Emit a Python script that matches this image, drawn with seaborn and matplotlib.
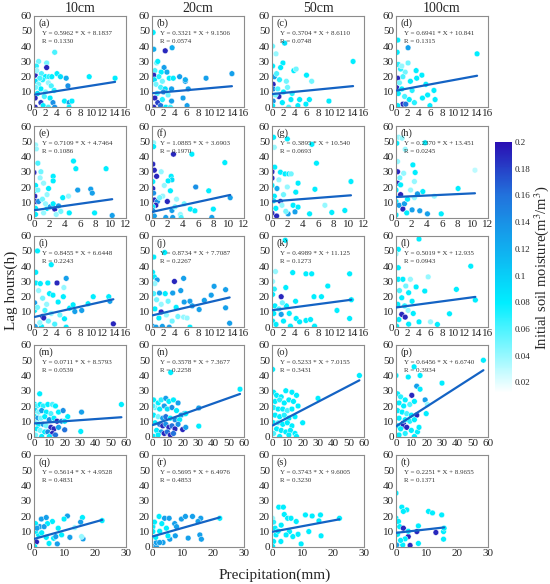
import numpy as np
import pandas as pd
import matplotlib
matplotlib.use("Agg")
import matplotlib.pyplot as plt
import seaborn as sns
from matplotlib.colors import LinearSegmentedColormap, Normalize
from matplotlib.cm import ScalarMappable

sns.set_style("white")
plt.rcParams["font.family"] = ["Liberation Serif", "DejaVu Serif"]
plt.rcParams["mathtext.fontset"] = "stix"

# panel labels, depths and fitted lines
depths = ["10cm", "20cm", "50cm", "100cm"]
panel_tags = ["(a)", "(b)", "(c)", "(d)", "(e)", "(f)", "(g)", "(h)", "(i)", "(j)",
              "(k)", "(l)", "(m)", "(n)", "(o)", "(p)", "(q)", "(r)", "(s)", "(t)"]
slopes = ["0.5962", "0.3321", "0.3704", "0.6941", "0.7109", "1.0885", "0.3895", "0.2370",
          "0.8455", "0.8734", "0.4989", "0.5019", "0.0711", "0.3578", "0.5233", "0.6456",
          "0.5614", "0.5695", "0.3743", "0.2251"]
intercepts = ["8.1837", "9.1506", "8.6110", "10.841", "4.7464", "3.6903", "10.540", "13.451",
              "6.6448", "7.7087", "11.125", "12.935", "8.5793", "7.3677", "7.0155", "6.6740",
              "4.9528", "6.4976", "9.6005", "8.9655"]
r_values = ["0.1330", "0.0574", "0.0748", "0.1315", "0.1086", "0.1970", "0.0693", "0.0245",
            "0.2243", "0.2267", "0.1273", "0.0943", "0.0539", "0.2258", "0.3431", "0.3934",
            "0.4831", "0.4853", "0.3230", "0.1371"]
row_xmax = [16, 12, 16, 60, 30]
row_xstep = [2, 2, 2, 10, 10]
cbar_ticks = [0.02, 0.04, 0.06, 0.08, 0.1, 0.12, 0.14, 0.16, 0.18, 0.2]

# points: (precipitation mm, lag hours, initial soil moisture)
pts_a = [(3.6, 36, .06), (0.8, 30, .05), (2.2, 29, .05), (0.4, 27, .07), (0.2, 21, .19), (2.2, 26, .19),
         (0.5, 24, .04), (1.3, 22, .06), (2.0, 20, .08), (2.6, 20, .07), (3.1, 20, .08), (4.0, 22, .08),
         (1.5, 18, .07), (0.3, 17, .09), (0.8, 15, .05), (2.5, 16, .04), (3.0, 14, .06), (1.2, 12, .08),
         (2.0, 10, .05), (3.5, 11, .07), (0.6, 9, .09), (1.8, 7, .06), (2.8, 6, .08), (0.2, 6, .19),
         (1.2, 3, .18), (3.3, 3, .14), (0.2, 0, .19), (1.6, 1, .08), (2.5, 0, .06), (3.6, 0, .14),
         (4.6, 20, .09), (5.6, 19, .12), (5.9, 14, .14), (5.3, 4, .08), (6.1, 3, .13), (6.6, 4, .08),
         (6.1, 0, .08), (9.6, 20, .08), (14.1, 19, .08), (0.3, 13, .05), (1.0, 19, .06)]
pts_b = [(0.2, 49, .08), (0.3, 38, .12), (2.3, 37, .19), (3.5, 39, .12), (0.8, 29, .05), (1.0, 30, .08),
         (2.1, 26, .13), (0.5, 24, .06), (1.6, 23, .08), (2.6, 23, .12), (0.3, 21, .19), (1.2, 20, .07),
         (0.4, 18, .09), (1.8, 17, .05), (3.0, 19, .08), (3.7, 19, .08), (4.8, 20, .13), (5.8, 17, .13),
         (5.8, 18, .12), (9.4, 19, .13), (13.9, 22, .13), (0.7, 15, .05), (1.5, 13, .06), (2.3, 12, .09),
         (3.4, 12, .13), (6.3, 12, .13), (2.0, 10, .14), (0.9, 9, .06), (2.8, 8, .05), (0.5, 6, .19),
         (1.0, 3, .18), (0.3, 0, .19), (1.5, 1, .16), (2.4, 0, .08), (3.4, 4, .13), (3.2, 0, .06),
         (5.4, 6, .13), (6.1, 1, .13), (1.8, 5, .07)]
pts_c = [(0.1, 40, .05), (0.7, 35, .04), (2.2, 42, .09), (0.1, 27, .08), (0.4, 20, .13), (0.2, 15, .19),
         (0.2, 12, .15), (1.2, 7, .19), (0.2, 4, .14), (0.1, 1, .08), (1.9, 29, .08), (1.5, 26, .08),
         (3.8, 24, .08), (4.2, 25, .05), (6.0, 21, .08), (6.9, 17, .05), (14.1, 30, .08), (9.9, 4, .08),
         (4.8, 5, .08), (6.5, 5, .08), (5.9, 2, .08), (3.3, 5, .08), (0.8, 22, .06), (1.3, 18, .07),
         (2.5, 17, .05), (1.0, 12, .06), (2.0, 10, .08), (2.7, 13, .05), (3.5, 9, .07), (0.6, 8, .05),
         (1.8, 3, .08), (2.9, 0, .06), (4.5, 1, .08)]
pts_d = [(0.3, 44, .08), (0.2, 36, .08), (0.4, 28, .07), (2.1, 39, .13), (0.3, 19, .19), (0.1, 13, .19),
         (1.2, 2, .19), (1.7, 2, .16), (14.1, 35, .08), (3.5, 24, .08), (3.6, 19, .08), (4.5, 21, .08),
         (5.2, 15, .08), (5.5, 8, .08), (4.6, 6, .08), (6.6, 11, .08), (6.8, 5, .08), (5.9, 1, .08),
         (2.1, 29, .05), (1.6, 23, .05), (0.8, 25, .07), (1.2, 20, .06), (2.5, 17, .08), (0.6, 16, .05),
         (1.0, 12, .08), (2.8, 11, .07), (0.4, 9, .08), (1.5, 7, .06), (2.3, 5, .08), (3.2, 3, .07),
         (0.3, 1, .08), (1.0, 27, .04)]
pts_e = [(0.2, 47.6, .04), (0.3, 45, .04), (0.5, 35.6, .06), (0.0, 29.5, .19), (0.2, 21, .08),
         (0.1, 17.7, .08), (0.1, 14, .19), (0.3, 10.5, .19), (0.6, 10.5, .14), (0.2, 6, .08), (0.2, 2, .08),
         (1.25, 22.5, .04), (1.9, 19, .08), (2.5, 27, .08), (2.5, 24, .08), (1.7, 6, .08), (2.1, 7, .13),
         (2.5, 9, .08), (2.7, 5.5, .19), (3.2, 7.6, .13), (3.75, 13, .08), (5.15, 37, .08), (5.46, 32, .08),
         (5.7, 18, .13), (4.6, 3, .08), (7.4, 18.6, .13), (7.6, 16, .13), (7.9, 3, .08), (9.4, 32, .08),
         (10.2, 1.3, .13), (1.25, 3, .04), (1.7, 15, .04), (0.8, 26, .04), (2.9, 2, .04), (1.1, 12, .05),
         (0.9, 30, .05), (1.5, 9, .04), (3.5, 4, .05), (0.5, 18, .05), (4.5, 14, .04)]
pts_f = [(0.2, 49, .04), (0.2, 46.5, .08), (0.1, 35, .19), (0.3, 31, .19), (0.6, 27, .19), (0.1, 23.5, .08),
         (0.1, 19, .19), (0.2, 16, .14), (0.3, 11.5, .19), (0.7, 10.5, .14), (0.5, 8, .19), (0.1, 7, .08),
         (0.1, 4.6, .13), (0.3, 1, .13), (2.8, 41.5, .19), (5.2, 41.5, .08), (2.5, 27, .08), (2.6, 24.7, .09),
         (2.1, 24, .08), (1.6, 21, .04), (2.4, 17.5, .08), (2.0, 10.5, .19), (1.4, 14, .04), (2.6, 4.6, .13),
         (1.8, 0, .13), (2.7, 0, .13), (3.7, 2, .04), (3.8, 0, .06), (5.0, 5.5, .08), (5.6, 4.4, .08),
         (5.7, 20, .14), (7.4, 17.5, .08), (8.0, 5.5, .08), (7.8, 0, .13), (9.5, 36, .08), (10.2, 13, .13),
         (1.0, 13, .05), (3.2, 12, .04), (4.2, 9, .05), (1.2, 30, .04), (3.0, 7, .05)]
pts_g = [(0.2, 52.6, .08), (2.0, 51.5, .08), (5.2, 48, .08), (0.3, 46, .04), (5.8, 35.6, .08),
         (0.35, 33, .08), (0.0, 30, .19), (0.0, 25.8, .19), (0.0, 21, .08), (1.1, 29.7, .08), (1.7, 28.6, .08),
         (2.2, 28.6, .08), (2.5, 28.6, .05), (3.4, 22.5, .08), (0.9, 24.7, .04), (0.65, 19, .12),
         (5.6, 18.5, .08), (10.3, 23.6, .08), (3.1, 16.6, .08), (1.1, 10.5, .19), (1.3, 8, .04),
         (2.75, 8, .08), (3.4, 6.8, .08), (0.0, 2.8, .19), (0.6, 1, .19), (2.1, 2.4, .13), (3.0, 3.7, .13),
         (4.9, 2.4, .08), (7.8, 3.3, .08), (9.5, 4.6, .08), (6.9, 8, .04), (0.3, 14, .08), (1.5, 15, .05),
         (2.0, 20, .04), (0.5, 6, .08), (1.8, 4, .05), (0.2, 11, .09)]
pts_h = [(0.35, 52.6, .04), (0.8, 52, .04), (3.8, 49, .08), (0.1, 48.7, .08), (1.2, 44.7, .04),
         (0.2, 30, .19), (0.2, 36.7, .04), (2.2, 34.5, .08), (2.5, 29.5, .08), (1.0, 29, .04), (0.2, 22.5, .19),
         (0.0, 18, .08), (0.6, 21.4, .08), (2.4, 23.6, .04), (1.9, 18, .04), (0.6, 15, .19), (0.0, 10.5, .08),
         (0.4, 8, .13), (1.1, 9, .13), (0.9, 5.5, .19), (0.0, 1.7, .08), (2.1, 5, .13), (3.1, 4.4, .13),
         (3.5, 17, .08), (4.1, 2.4, .13), (5.9, 2.4, .08), (8.1, 19, .08), (10.3, 31, .03), (2.4, 13, .04),
         (2.8, 15.5, .13), (5.0, 14, .04), (1.5, 12, .08), (0.5, 26, .05), (1.4, 3, .08)]
pts_i = [(0.6, 50, .08), (0.3, 36, .08), (3.0, 41, .08), (0.3, 29, .08), (1.1, 28.6, .08), (2.4, 29, .08),
         (4.0, 29, .19), (5.6, 32, .13), (0.1, 16, .13), (0.1, 11, .08), (1.5, 7, .19), (1.7, 6, .19),
         (0.2, 0.4, .13), (2.7, 22, .08), (3.3, 21, .08), (4.2, 16.5, .08), (5.2, 26, .04), (5.1, 20, .08),
         (5.3, 5.5, .08), (6.2, 12.5, .08), (6.8, 14.7, .08), (7.1, 10.3, .13), (8.3, 11, .13),
         (9.4, 15.4, .08), (10.3, 20, .08), (13.0, 20, .08), (13.2, 17, .13), (13.8, 2.2, .19),
         (5.6, 0, .08), (1.3, 0.4, .08), (0.8, 24, .04), (1.5, 19, .05), (2.2, 15, .04), (0.6, 13, .05),
         (1.9, 11, .06), (3.0, 9, .04), (2.5, 4, .05), (3.6, 2, .06), (1.0, 3, .04), (4.5, 8, .05)]
pts_j = [(0.3, 46, .08), (2.2, 49, .08), (0.1, 36, .08), (0.4, 33, .08), (0.9, 31, .13), (0.5, 28.6, .04),
         (3.9, 30, .19), (5.5, 32, .13), (1.3, 22.4, .13), (2.3, 22, .08), (3.6, 22.4, .13), (5.0, 24, .13),
         (5.6, 16.5, .13), (6.6, 17, .13), (7.0, 14, .13), (8.2, 11.6, .13), (9.1, 17.6, .13), (10.3, 21, .13),
         (10.8, 26.8, .13), (12.8, 24.6, .13), (12.8, 12.7, .13), (13.5, 2.6, .13), (1.6, 10, .19),
         (0.2, 0.4, .13), (0.7, 0, .13), (1.8, 0.5, .13), (3.0, 0, .13), (6.6, 0, .08), (5.5, 6.6, .04),
         (6.1, 6, .04), (4.5, 7, .05), (0.8, 18, .05), (1.6, 15, .04), (2.8, 17, .05), (0.5, 12, .08),
         (2.5, 8, .04), (3.5, 4, .05), (1.2, 6, .08), (4.2, 13, .08), (0.3, 22, .06)]
pts_k = [(2.3, 57, .08), (0.6, 36.5, .04), (3.6, 35.8, .08), (5.9, 35, .08), (6.9, 35, .08), (13.5, 35, .08),
         (9.7, 27, .08), (0.1, 30, .04), (2.4, 26, .08), (1.6, 20, .19), (0.1, 21.5, .08), (7.3, 20, .08),
         (8.6, 20, .08), (4.1, 17, .08), (13.8, 18, .08), (11.3, 11, .08), (1.6, 8.4, .13), (0.1, 4, .08),
         (4.2, 5.7, .08), (4.8, 3.5, .08), (5.9, 4.4, .08), (6.7, 5, .08), (7.4, 0.7, .08), (13.5, 5.7, .08),
         (3.2, 0.7, .08), (0.7, 1.8, .08), (0.5, 14, .08), (1.2, 12, .06), (2.5, 14, .08), (3.0, 9, .08),
         (0.4, 25, .07), (1.8, 16, .05), (2.0, 4, .08), (0.3, 9, .08)]
pts_l = [(4.0, 57.8, .08), (0.4, 51, .08), (0.0, 48, .04), (0.4, 39, .08), (13.0, 40, .08), (5.6, 33, .04),
         (0.4, 31.4, .08), (1.2, 31.4, .08), (2.5, 31.4, .04), (3.5, 26.4, .08), (5.0, 23.7, .08),
         (10.5, 24.8, .08), (13.8, 17.8, .08), (1.0, 19.3, .08), (2.2, 22.6, .08), (1.0, 8.4, .19),
         (1.6, 6.6, .19), (4.0, 3.5, .08), (6.0, 3.5, .04), (7.2, 1.8, .08), (9.3, 8.8, .08), (0.1, 0.7, .08),
         (2.1, 11, .04), (0.3, 15, .08), (1.5, 14, .07), (2.8, 17, .08), (0.6, 24, .06), (3.0, 9, .08),
         (0.5, 5, .08), (2.2, 2, .08), (1.7, 27, .05)]
pts_m = [(3.7, 28, .08), (0.5, 21, .08), (2, 20, .06), (4, 21, .08), (6, 20, .07), (9, 21, .08), (12, 21, .06),
         (14, 20, .08), (1, 17, .09), (3, 16, .05), (5, 17, .13), (8, 16, .08), (11, 15, .06), (16, 16, .08),
         (19, 17, .14), (22, 13, .08), (0.5, 13, .08), (2.5, 12, .13), (4.5, 12, .05), (7, 13, .08),
         (10, 11, .14), (13, 12, .08), (15, 10, .19), (18, 10, .14), (1, 9, .05), (3, 8, .08), (6, 8, .13),
         (8, 7, .05), (11, 6, .19), (13, 5, .19), (16, 6, .13), (2, 5, .08), (4, 4, .05), (7, 3, .08),
         (9, 3, .14), (12, 2, .19), (14, 1, .16), (1, 1, .05), (5, 0, .08), (10, 0, .08), (31, 16, .13),
         (30.5, 3.3, .08), (57, 21, .08), (20, 4.4, .16), (20, 10, .08)]
pts_n = [(12.2, 42, .08), (57.4, 31, .08), (30.5, 18.7, .13), (30.5, 6.8, .08), (20, 4.6, .19), (21, 15, .13),
         (1, 24, .08), (4, 22, .08), (6, 24, .07), (9, 25, .13), (11, 23, .08), (14, 24, .08), (17, 22, .13),
         (2, 19, .05), (5, 18, .08), (8, 20, .13), (10, 18, .09), (13, 19, .14), (16, 17, .08), (19, 14, .13),
         (22, 15, .08), (1, 14, .08), (4, 13, .05), (7, 12, .13), (9, 13, .16), (12, 12, .08), (15, 11, .14),
         (18, 11, .08), (2, 9, .08), (5, 8, .16), (7, 7, .19), (9, 8, .14), (11, 6, .19), (13, 7, .16),
         (15, 5, .19), (17, 8, .14), (3, 4, .08), (6, 3, .13), (8, 2, .19), (10, 3, .16), (12, 1, .19),
         (14, 2, .16), (1, 0, .08), (4, 1, .08), (22, 6, .13), (0.5, 20, .06)]
pts_o = [(0.4, 44, .08), (57, 40, .08), (30, 25, .08), (9, 30, .08), (20, 9, .08), (1, 29, .08), (3, 27, .08),
         (6, 26, .08), (13, 29, .08), (16, 27, .08), (2, 23, .08), (5, 24, .07), (8, 22, .08), (11, 24, .08),
         (14, 23, .08), (17, 20, .08), (1, 19, .07), (4, 18, .08), (7, 18, .08), (10, 17, .06), (13, 18, .08),
         (2, 14, .08), (5, 13, .08), (8, 14, .07), (11, 12, .08), (15, 13, .08), (1, 9, .08), (4, 9, .06),
         (7, 8, .08), (10, 9, .08), (13, 7, .08), (3, 5, .08), (6, 4, .08), (9, 3, .08), (12, 4, .08),
         (15, 2, .08), (1, 2, .06), (5, 0, .08), (11, 1, .08), (16, 0, .08)]
pts_p = [(0, 40, .08), (57, 50, .08), (11.8, 45.7, .08), (8, 39, .08), (15.7, 40, .08), (30, 35, .08),
         (13.5, 33, .13), (10.3, 27, .19), (15.7, 31, .08), (19, 24, .13), (20.5, 21, .04), (19.7, 15, .08),
         (13.5, 14, .19), (4.8, 8.8, .19), (4.4, 6.8, .19), (7, 6, .19), (1, 28, .08), (3, 26, .07),
         (6, 24, .08), (2, 22, .08), (5, 20, .08), (9, 21, .06), (12, 23, .08), (1, 17, .08), (4, 16, .08),
         (7, 15, .06), (10, 14, .08), (2, 12, .08), (6, 11, .08), (9, 10, .07), (12, 11, .08), (1, 7, .08),
         (3, 5, .08), (10, 4, .08), (14, 3, .08), (2, 1, .08), (6, 2, .07), (12, 0, .08), (15, 6, .08)]
pts_q = [(0.5, 15, .08), (1.9, 13, .13), (2.4, 18, .13), (4.0, 19, .13), (6.0, 16.4, .08), (4.4, 15, .08),
         (3.3, 13, .13), (10.9, 20, .13), (9.8, 18, .08), (15.8, 19, .08), (15.2, 16, .13), (22.2, 17, .08),
         (11.7, 6, .13), (16.0, 5, .13), (15.5, 6.5, .04), (7.6, 1.7, .13), (4.9, 2, .08), (6.4, 5.4, .08),
         (0.8, 3, .19), (0.2, 0, .08), (1.5, 7.6, .08), (4.0, 6, .08), (9.0, 7.6, .08), (7.1, 6.5, .13),
         (7.9, 12, .08), (13.3, 12.4, .04), (0.5, 10, .08), (2.5, 9, .08), (1.0, 12, .13)]
pts_r = [(0.3, 13, .08), (0.5, 0, .13), (1.4, 0, .13), (2.3, 19.7, .08), (4.1, 18.5, .13), (5.6, 18.5, .13),
         (7.4, 15, .13), (8.0, 13, .13), (9.6, 18, .13), (10.9, 19.7, .13), (13.2, 19.7, .13), (15.9, 18.5, .13),
         (15.0, 16.4, .13), (22.1, 18.5, .08), (11.8, 5.5, .13), (15.6, 7.6, .13), (16.1, 4.8, .13),
         (5.8, 4.8, .13), (7.6, 7, .13), (3.6, 2.6, .13), (1.4, 2.6, .13), (2.5, 2.6, .13), (0.3, 9.8, .08),
         (2.5, 10, .08), (4.7, 12, .08), (5.2, 7, .08), (1.2, 6, .08), (3.2, 15, .08), (0.8, 16, .08)]
pts_s = [(2.2, 25.8, .08), (3.7, 25.8, .08), (0.2, 18.5, .04), (4.0, 21, .08), (5.1, 18.5, .08),
         (6.2, 18.5, .08), (10.9, 20.7, .08), (13.1, 20, .08), (15.8, 20.7, .08), (15.3, 16.8, .08),
         (22.0, 18.5, .08), (7.9, 16.4, .08), (12.0, 9.8, .08), (16.0, 7, .08), (9.5, 1.7, .08), (2.9, 3.3, .08),
         (5.7, 9.8, .08), (6.8, 6.5, .08), (4.6, 7.6, .08), (1.3, 7.6, .08), (0.5, 3.3, .08), (0.2, 0, .08),
         (1.0, 12, .08), (3.0, 14, .08), (0.5, 16, .07), (8.5, 8, .08), (2.0, 10, .08)]
pts_t = [(0, 35, .08), (0, 18.5, .08), (1.9, 25.8, .08), (3.5, 24, .08), (2.4, 23, .08), (10.6, 23, .08),
         (11.9, 22, .08), (14.9, 20.7, .08), (0.8, 16.4, .08), (1.2, 13, .08), (2.4, 12, .19), (4.0, 6.5, .19),
         (4.6, 0.7, .19), (6.8, 9.8, .19), (13.0, 9.2, .19), (7.3, 13.5, .08), (15.5, 9.8, .08),
         (15.5, 4.8, .08), (15.7, 12, .08), (2.2, 1, .08), (0.2, 1, .13), (7.3, 2, .08), (4.0, 10, .08),
         (0.5, 8, .08), (3.0, 5, .08), (1.5, 4, .08)]

all_pts = [pts_a, pts_b, pts_c, pts_d, pts_e, pts_f, pts_g, pts_h, pts_i, pts_j,
           pts_k, pts_l, pts_m, pts_n, pts_o, pts_p, pts_q, pts_r, pts_s, pts_t]

# soil moisture colour scale
vmin, vmax = 0.012, 0.2
cmap = LinearSegmentedColormap.from_list(
    "sm", [(0.0, "#ffffff"), (0.36, "#00eeff"), (0.57, "#10b0f0"), (0.79, "#2272dc"), (1.0, "#2a0fb3")])
norm = Normalize(vmin, vmax)

W, H = 550, 584
fig = plt.figure(figsize=(W / 100, H / 100), dpi=100)

col_left = [34, 152, 272, 396]
row_top = [15.7, 126, 235.7, 345, 455]
aw, ah = 92, 91.5

for k, pts in enumerate(all_pts):
    r, c = divmod(k, 4)
    ax = fig.add_axes([col_left[c] / W, 1 - (row_top[r] + ah) / H, aw / W, ah / H])
    df = pd.DataFrame(pts, columns=["P", "lag", "sm"])
    sns.scatterplot(data=df, x="P", y="lag", hue="sm", palette=cmap, hue_norm=norm,
                    s=17, edgecolor="white", linewidth=0.3, legend=False, ax=ax, zorder=2)
    a, b = float(slopes[k]), float(intercepts[k])
    xs = np.array([df["P"].min(), df["P"].max()])
    sns.lineplot(x=xs, y=a * xs + b, color="#1463c4", lw=1.6, ax=ax, zorder=3)
    ax.set_xlim(0, row_xmax[r])
    ax.set_ylim(0, 60)
    ax.set_xticks(np.arange(0, row_xmax[r] + 1, row_xstep[r]))
    ax.set_yticks(np.arange(0, 61, 10))
    ax.tick_params(labelsize=8, length=0, pad=1.5)
    ax.set_xlabel("")
    ax.set_ylabel("")
    for sp in ax.spines.values():
        sp.set_color("#8c8c8c")
        sp.set_linewidth(0.8)
    ax.text(0.05, 0.92, panel_tags[k], transform=ax.transAxes, fontsize=7.5, va="center")
    ax.text(0.09, 0.81, f"Y = {slopes[k]} * X + {intercepts[k]}", transform=ax.transAxes,
            fontsize=5, va="center", color="#333333")
    ax.text(0.09, 0.72, f"R = {r_values[k]}", transform=ax.transAxes,
            fontsize=5, va="center", color="#333333")
    if r == 0:
        ax.set_title(depths[c], fontsize=10, pad=3)

cax = fig.add_axes([495 / W, 1 - 393 / H, 17 / W, 251 / H])
cb = fig.colorbar(ScalarMappable(norm=norm, cmap=cmap), cax=cax, ticks=cbar_ticks)
cb.outline.set_visible(False)
cb.ax.tick_params(labelsize=6.5, length=0, pad=2)
cb.ax.set_yticklabels([f"{t:g}" for t in cbar_ticks])
cb.set_label("Initial soil moisture(m$^3$/m$^3$)", fontsize=10.5, labelpad=1)

fig.text(275 / W, 1 - 575 / H, "Precipitation(mm)", ha="center", va="center", fontsize=11)
fig.text(11 / W, 1 - 290 / H, "Lag hours(h)", ha="center", va="center", rotation=90, fontsize=11)

fig.savefig("out.png", dpi=100)
